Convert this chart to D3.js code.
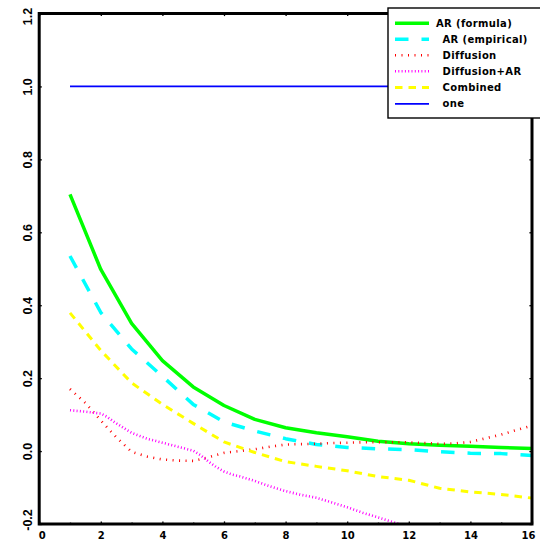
<!DOCTYPE html>
<html><head><meta charset="utf-8">
<script src="https://cdn.jsdelivr.net/npm/d3@7"></script>
<style>
body{margin:0;background:#fff}
svg{display:block}
text{font-family:"DejaVu Sans",sans-serif;font-weight:bold;fill:#000}
</style>
</head><body>
<svg id="chart" width="540" height="543"></svg>
<script>
// ---- data ----
const lags = [1,2,3,4,5,6,7,8,9,10,11,12,13,14,15,16];
const arFormula   = [0.704,0.498,0.350,0.248,0.176,0.125,0.087,0.064,0.050,0.039,0.027,0.020,0.016,0.013,0.010,0.007];
const arEmpirical = [0.535,0.380,0.280,0.205,0.128,0.080,0.055,0.034,0.018,0.010,0.006,0.004,-0.002,-0.006,-0.007,-0.012];
const combined    = [0.379,0.276,0.187,0.128,0.076,0.025,-0.004,-0.029,-0.042,-0.054,-0.070,-0.080,-0.102,-0.112,-0.119,-0.129];
const diffusionLags = [1,1.5,2,2.5,3,3.5,4,4.5,5,5.5,6,6.5,7,7.5,8,8.5,9,9.5,10,10.5,11,11.5,12,12.5,13,13.5,14,14.5,15,15.5,16];
const diffusion     = [0.170,0.132,0.084,0.038,-0.002,-0.015,-0.023,-0.026,-0.027,-0.017,-0.005,0.000,0.005,0.012,0.018,0.019,0.020,0.022,0.023,0.024,0.024,0.024,0.024,0.022,0.020,0.021,0.025,0.035,0.045,0.058,0.070];
const diffArLags = [1,1.5,2,2.2,2.5,3,3.5,4,4.5,5,5.25,5.5,5.75,6,6.25,6.5,7,7.5,8,8.5,9,9.5,10,10.5,11,11.5,12,12.5];
const diffusionAR = [0.112,0.108,0.103,0.094,0.076,0.050,0.034,0.023,0.012,0.001,-0.012,-0.029,-0.044,-0.056,-0.064,-0.069,-0.082,-0.097,-0.110,-0.120,-0.128,-0.141,-0.154,-0.169,-0.182,-0.195,-0.208,-0.222];
const oneLags = [1,16];
const one = [1,1];

const xTicks = [0,1,2,3,4,5,6,7,8,9,10,11,12,13,14,15,16];
const xTickLabels = ["0","","2","","4","","6","","8","","10","","12","","14","","16"];
const yTicks = [-0.2,0,0.2,0.4,0.6,0.8,1.0,1.2];
const yTickLabels = ["-0.2","0.0","0.2","0.4","0.6","0.8","1.0","1.2"];
const seriesNames = ["AR (formula)","AR (empirical)","Diffusion","Diffusion+AR","Combined","one"];

// ---- styles ----
const styles = [
  {color:"#00ff00", width:3.5, dash:null},
  {color:"#00ffff", width:3.5, dash:"13.5 13"},
  {color:"#ff0000", width:2.6, dash:"1 5.5"},
  {color:"#ff00ff", width:2.6, dash:"1 2.3"},
  {color:"#ffff00", width:3,   dash:"7.5 6"},
  {color:"#0000ff", width:1.7, dash:null}
];

const series = [
  lags.map((l,i)=>[l,arFormula[i]]),
  lags.map((l,i)=>[l,arEmpirical[i]]),
  diffusionLags.map((l,i)=>[l,diffusion[i]]),
  diffArLags.map((l,i)=>[l,diffusionAR[i]]),
  lags.map((l,i)=>[l,combined[i]]),
  oneLags.map((l,i)=>[l,one[i]])
];

const svg = d3.select("#chart");
const L=39.2, R=532, T=13.5, B=524;
const x = d3.scaleLinear().domain([0,16]).range([L,R]);
const y = d3.scaleLinear().domain([-0.2,1.2]).range([B,T]);

svg.append("defs").append("clipPath").attr("id","plotclip")
  .append("rect").attr("x",L).attr("y",T).attr("width",R-L).attr("height",B-T);

const line = d3.line().x(d=>x(d[0])).y(d=>y(d[1]));
const plot = svg.append("g").attr("clip-path","url(#plotclip)");
const order = [5,0,1,2,3,4];
order.forEach(i=>{
  plot.append("path").datum(series[i])
    .attr("d",line).attr("fill","none")
    .attr("stroke",styles[i].color).attr("stroke-width",styles[i].width)
    .attr("stroke-dasharray",styles[i].dash)
    .attr("stroke-linejoin","round");
});

// axes (ticks inward)
function tickLen(d){ return (d%2===0)?2.6:1.4; }
const gB = svg.append("g").attr("transform",`translate(0,${B})`)
  .call(d3.axisBottom(x).tickValues(xTicks).tickSize(0).tickPadding(0).tickFormat((d,i)=>xTickLabels[i]));
gB.select(".domain").remove();
gB.selectAll(".tick line").attr("y2",d=>-tickLen(d)).attr("stroke","#000").attr("stroke-width",1.3);
gB.selectAll(".tick text").attr("font-size",10).attr("y",15).attr("dy",0)
  .attr("dx",d=> d===0?2.5:(d===16?-4:0));

const gT = svg.append("g").attr("transform",`translate(0,${T})`)
  .call(d3.axisTop(x).tickValues(xTicks).tickSize(0).tickFormat(""));
gT.select(".domain").remove();
gT.selectAll(".tick line").attr("y2",d=>tickLen(d)).attr("stroke","#000").attr("stroke-width",1.3);

const gL = svg.append("g").attr("transform",`translate(${L},0)`)
  .call(d3.axisLeft(y).tickValues(yTicks).tickSize(0).tickFormat(""));
gL.select(".domain").remove();
gL.selectAll(".tick line").attr("x2",2.6).attr("stroke","#000").attr("stroke-width",1.3);
gL.selectAll(".tick").append("text")
  .attr("transform",(d,i)=>{
    let off = 0; if(i===0) off=-4.5; if(i===yTicks.length-1) off=2.5;
    return `translate(${31.5-L},${off}) rotate(-90)`;})
  .attr("text-anchor","middle").attr("font-size",12.5)
  .style("font-family","'Liberation Sans',Arial,sans-serif")
  .text((d,i)=>yTickLabels[i]);

const gR = svg.append("g").attr("transform",`translate(${R},0)`)
  .call(d3.axisRight(y).tickValues(yTicks).tickSize(0).tickFormat(""));
gR.select(".domain").remove();
gR.selectAll(".tick line").attr("x2",-2.6).attr("stroke","#000").attr("stroke-width",1.3);

// frame
svg.append("rect").attr("x",L).attr("y",T).attr("width",R-L).attr("height",B-T)
  .attr("fill","none").attr("stroke","#000").attr("stroke-width",3);

// legend
const lg = svg.append("g");
lg.append("rect").attr("x",388).attr("y",8).attr("width",170).attr("height",110)
  .attr("fill","#fff").attr("stroke","#000").attr("stroke-width",1.4);
const rowY = [23.3,39.3,55.3,71.3,87.5,103.8];
seriesNames.forEach((name,i)=>{
  lg.append("line").attr("x1",395).attr("x2",429).attr("y1",rowY[i]).attr("y2",rowY[i])
    .attr("stroke",styles[i].color).attr("stroke-width",styles[i].width)
    .attr("stroke-dasharray",styles[i].dash);
  lg.append("text").attr("x", i===0?436:442.5).attr("y",rowY[i]+3.6)
    .attr("font-size",10).attr("letter-spacing",0.35).text(name);
});
</script>
</body></html>
